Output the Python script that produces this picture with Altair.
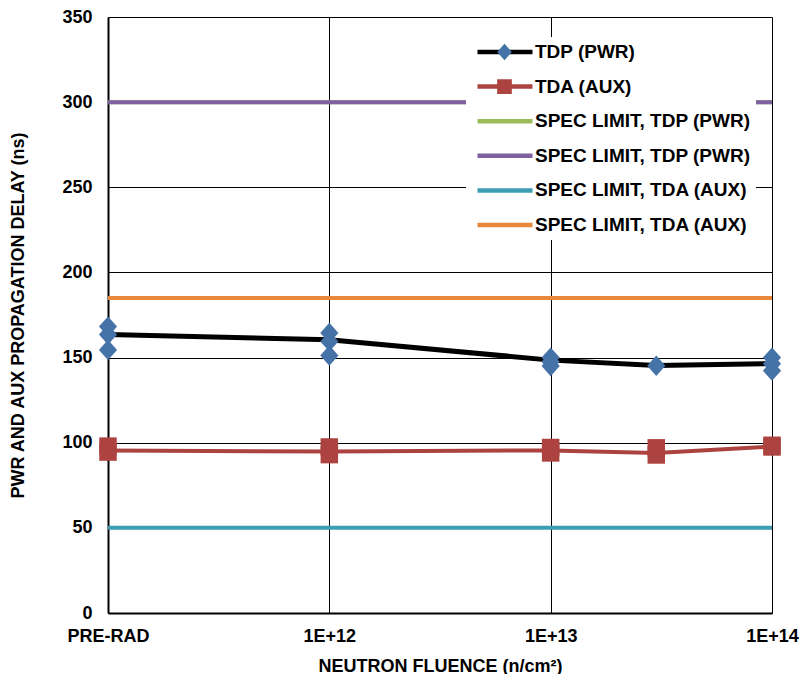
import math
import altair as alt
import pandas as pd

# ---------------- data ----------------
# Neutron fluence positions; PRE-RAD is plotted at 1E+11 on the log axis
fluence = [1e11, 1e12, 1e13, 3e13, 1e14]

# mean lines
tdp_mean = [163.5, 160.5, 148.5, 145.4, 146.5]
tda_mean = [95.5, 94.8, 95.5, 94.0, 97.8]

# individual samples (markers)
tdp_pts_x = [1e11, 1e11, 1e11, 1e12, 1e12, 1e12, 1e13, 1e13, 1e13, 3e13, 1e14, 1e14, 1e14]
tdp_pts_y = [168.2, 163.5, 154.5, 164.5, 159.5, 151.2, 150.0, 147.5, 145.0, 145.2, 150.0, 146.3, 142.3]
tda_pts_x = [1e11, 1e11, 1e12, 1e12, 1e13, 1e13, 3e13, 3e13, 1e14, 1e14]
tda_pts_y = [98.0, 94.5, 97.5, 93.0, 97.2, 94.0, 97.0, 92.8, 98.5, 97.5]

# spec limits (two entries share each visible label; trailing space keeps keys distinct)
spec_names = ["SPEC LIMIT, TDP (PWR)", "SPEC LIMIT, TDP (PWR) ",
              "SPEC LIMIT, TDA (AUX)", "SPEC LIMIT, TDA (AUX) "]
spec_values = [300, 300, 50, 185]

data_names = ["TDP (PWR)", "TDA (AUX)"]
series_names = data_names + spec_names
series_colors = ["#000000", "#AD4340", "#9BBB59", "#7F60A0", "#3D9DB3", "#E8883A"]
marker_fills = ["#4572A7", "#AD4340"]
marker_shapes = ["M0,-1.12L1,0L0,1.12L-1,0Z", "square"]
marker_sizes = [330, 305]

tick_values = [1e11, 1e12, 1e13, 1e14]
tick_labels = ["PRE-RAD", "1E+12", "1E+13", "1E+14"]
y_ticks = [0, 50, 100, 150, 200, 250, 300, 350]

# ---------------- tables ----------------
tdp_line_df = pd.DataFrame({"x": fluence, "y": tdp_mean, "series": data_names[0]})
tda_line_df = pd.DataFrame({"x": fluence, "y": tda_mean, "series": data_names[1]})
pts_df = pd.concat([
    pd.DataFrame({"x": tdp_pts_x, "y": tdp_pts_y, "series": data_names[0]}),
    pd.DataFrame({"x": tda_pts_x, "y": tda_pts_y, "series": data_names[1]}),
], ignore_index=True)
spec_df = pd.DataFrame({"y": spec_values, "series": spec_names})

# x label expression built from the tick lists
expr = "''"
for v, lab in reversed(list(zip(tick_values, tick_labels))):
    e = round(math.log10(v))
    expr = f"round(log(datum.value)/LN10) == {e} ? '{lab}' : ({expr})"

FONT = "Liberation Sans"

x_enc = alt.X("x:Q",
              scale=alt.Scale(type="log", domain=[tick_values[0], tick_values[-1]], nice=False),
              axis=alt.Axis(values=tick_values, labelExpr=expr,
                            title="NEUTRON FLUENCE (n/cm²)",
                            grid=True, gridColor="black", gridWidth=1,
                            ticks=False, labelPadding=14, titlePadding=12,
                            domainColor="black", domainWidth=2,
                            labelFlush=False))
y_enc = alt.Y("y:Q",
              scale=alt.Scale(domain=[0, 350], nice=False),
              axis=alt.Axis(values=y_ticks, title="PWR AND AUX PROPAGATION DELAY (ns)",
                            grid=True, gridColor="black", gridWidth=1,
                            ticks=False, labelPadding=16, titlePadding=34,
                            domainColor="black", domainWidth=2))

LEG_X, LEG_Y = 358, 20
legend_lines = alt.Legend(orient="none", legendX=LEG_X, legendY=LEG_Y, title=None,
                          fillColor="white", padding=5, symbolType="stroke",
                          symbolSize=55 * 55, symbolStrokeWidth=4.5, symbolOffset=4,
                          clipHeight=20, rowPadding=14.6, labelOffset=0,
                          labelFont=FONT, labelFontWeight="bold", labelFontSize=19,
                          labelColor="black", labelLimit=400, zindex=1)
legend_marks = alt.Legend(orient="none", legendX=LEG_X, legendY=LEG_Y, title=None,
                          padding=5, symbolSize=215, symbolStrokeWidth=0,
                          symbolOffset=24, clipHeight=20, rowPadding=14.6,
                          labelExpr="''", labelFontSize=19, zindex=2)

color_enc = alt.Color("series:N",
                      scale=alt.Scale(domain=series_names, range=series_colors),
                      legend=legend_lines)

spec_layer = alt.Chart(spec_df).mark_rule(strokeWidth=4).encode(y=y_enc, color=color_enc)
tdp_line = alt.Chart(tdp_line_df).mark_line(strokeWidth=5).encode(x=x_enc, y=y_enc, color=color_enc)
tda_line = alt.Chart(tda_line_df).mark_line(strokeWidth=4).encode(x=x_enc, y=y_enc, color=color_enc)
points = alt.Chart(pts_df).mark_point(filled=True, opacity=1, strokeWidth=0).encode(
    x=x_enc, y=y_enc,
    fill=alt.Fill("series:N", scale=alt.Scale(domain=data_names, range=marker_fills), legend=legend_marks),
    shape=alt.Shape("series:N", scale=alt.Scale(domain=data_names, range=marker_shapes), legend=legend_marks),
    # reversed domain order so this hidden legend is never merged with the marker legend
    size=alt.Size("series:N", scale=alt.Scale(domain=data_names[::-1], range=marker_sizes[::-1]), legend=None),
)

chart = alt.layer(spec_layer, tdp_line, tda_line, points).properties(
    width=664, height=596,
    background="white",
    autosize=alt.AutoSizeParams(type="none"),
    padding={"left": 100, "top": 9, "right": 27, "bottom": 61},
).configure_view(stroke=None).configure_axis(
    labelFont=FONT, labelFontWeight="bold", labelFontSize=18, labelColor="black",
    titleFont=FONT, titleFontWeight="bold", titleFontSize=18, titleColor="black",
)

chart.save("out.html", embed_options={"renderer": "svg", "actions": False})
